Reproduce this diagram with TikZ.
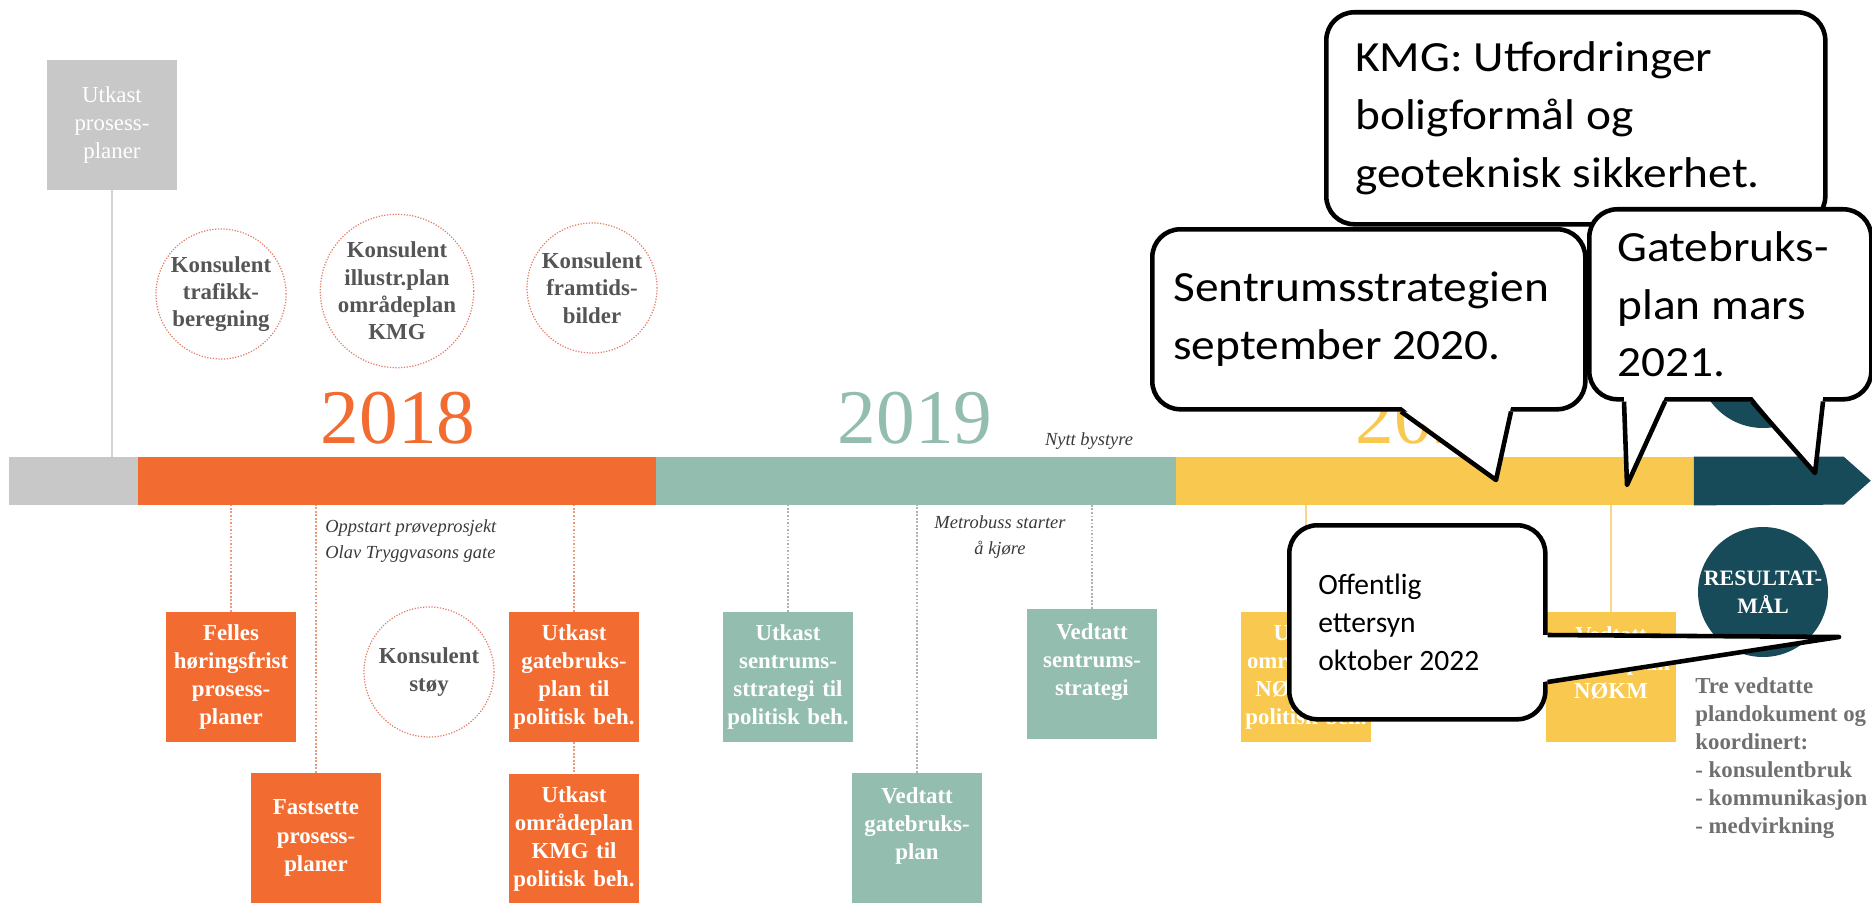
\documentclass[tikz,border=0pt]{standalone}
\usepackage{fontspec}
\setmainfont{Liberation Serif}
\newfontfamily\bobleskrift[FakeStretch=1.1]{Carlito}
\newfontfamily\smaabobleskrift{Carlito}
\usepackage{tikz}
\usetikzlibrary{positioning}
\definecolor{oransje}{HTML}{F26B30}
\definecolor{salvie}{HTML}{93BDAE}
\definecolor{gul}{HTML}{F9C84E}
\definecolor{marine}{HTML}{184B5A}
\definecolor{graa}{HTML}{C8C8C8}
\definecolor{graalinjefarge}{HTML}{D3D3D3}
\definecolor{sirkelkant}{HTML}{E27C68}
\definecolor{sirkeltekst}{HTML}{555555}
\definecolor{notattekst}{HTML}{3A3A3A}
\definecolor{maaltekst}{HTML}{707070}
\definecolor{prikkoransje}{HTML}{E99B7A}
\definecolor{prikksalvie}{HTML}{A8B5B3}
\definecolor{strekgul}{HTML}{F7D68A}
\newcommand{\boksfont}{\fontsize{13}{16}\selectfont\bfseries}
\tikzset {
boks/.style={shape=rectangle,minimum width=26mm,minimum height=26mm,text width=25mm,inner sep=0.5mm,align=center,text=white,font=\boksfont},
sirkel/.style={shape=circle,draw=sirkelkant,line width=0.7pt,dash pattern=on 0.7pt off 0.9pt,minimum size=26mm,inner sep=0pt,align=center,text=sirkeltekst,font=\fontsize{13}{15.5}\selectfont\bfseries},
rund/.style={shape=circle,fill=marine,minimum size=26mm,inner sep=0pt,align=center,text=white,font=\fontsize{12.5}{16}\selectfont\bfseries},
bar/.style={shape=rectangle,minimum height=9.6mm,inner sep=0pt,anchor=west},
aar/.style={anchor=base,inner sep=0pt,font=\fontsize{44}{44}\selectfont},
notat/.style={inner sep=0pt,text=notattekst,font=\fontsize{10.5}{14.7}\selectfont\itshape},
boble/.style={shape=rectangle,draw=black,fill=white,line width=2.6pt,rounded corners=5.6mm,align=flush left,anchor=north west,inner ysep=0pt,font=\bobleskrift\fontsize{24.5}{32.8}\selectfont},
hale/.style={draw=black,line width=2.6pt,line join=round},
graalinje/.style={draw=graalinjefarge,line width=1.1pt},
strek oransje/.style={draw=prikkoransje,line width=0.8pt,dash pattern=on 1pt off 1pt},
strek salvie/.style={draw=prikksalvie,line width=0.8pt,dash pattern=on 1pt off 1pt},
strek gul/.style={draw=strekgul,line width=0.9pt}
}

\begin{document}
\begin{tikzpicture}
[x=0.2mm,y=-0.2mm]
\useasboundingbox (0,0) rectangle (1872,902);
\node[boks,fill=graa,font=\boksfont\mdseries] (utkast prosess) at (112,125) {Utkast\\prosess-\\planer};
\node[bar,fill=graa,minimum width=25.8mm] (bar start) at (9,481) {};
\node[bar,fill=oransje,minimum width=103.6mm] (bar 2018) at (138,481) {};
\node[bar,fill=salvie,minimum width=104mm] (bar 2019) at (656,481) {};
\node[bar,fill=gul,minimum width=103.4mm] (bar 2020) at (1176,481) {};
\fill[marine] (bar 2020.north east) -- ++(150,0) -- ++(27,24) -- ++(-27,24) -- (bar 2020.south east) -- cycle;
\draw[graalinje] (utkast prosess.south) -- (utkast prosess.south |- bar start.north);

\node[sirkel] (trafikk) at (221,294) {Konsulent\\trafikk-\\beregning};
\node[sirkel] (illustrasjon) at (397,291) {Konsulent\\illustr.plan\\områdeplan\\KMG};
\node[sirkel] (framtid) at (592,288) {Konsulent\\framtids-\\bilder};
\node[sirkel] (stoy) at (429,672) {Konsulent\\støy};

\node[aar,text=oransje] (aar 2018) at (398,443) {2018};
\node[aar,text=salvie] (aar 2019) at (915,443) {2019};
\node[aar,text=gul] (aar 2020) at (1433,443) {2020};

\node[boks,fill=oransje] (felles) at (231,677) {Felles\\høringsfrist\\prosess-\\planer};
\node[boks,fill=oransje] (fastsette) at (316,838) {Fastsette\\prosess-\\planer};
\node[boks,fill=oransje] (gatebruks utkast) at (574,677) {Utkast\\gatebruks-\\plan til\\politisk beh.};
\node[boks,fill=oransje] (kmg utkast) [below=6.2mm of gatebruks utkast] {Utkast\\områdeplan\\KMG til\\politisk beh.};
\node[boks,fill=salvie] (sentrum utkast) at (788,677) {Utkast\\sentrums-\\sttrategi til\\politisk beh.};
\node[boks,fill=salvie] (gatebruks vedtatt) at (917,838) {Vedtatt\\gatebruks-\\plan\\\mbox{}};
\node[boks,fill=salvie] (sentrum vedtatt) at (1092,674) {Vedtatt\\sentrums-\\strategi\\\mbox{}};
\node[boks,fill=gul] (nokm utkast) at (1306,677) {Utkast\\områdeplan\\NØKM til\\politisk beh.};
\node[boks,fill=gul] (nokm vedtatt) at (1611,677) {Vedtatt\\områdeplan\\NØKM\\\mbox{}};

\draw[strek oransje] (felles.north) -- (felles.north |- bar 2018.south);
\draw[strek oransje] (fastsette.north) -- (fastsette.north |- bar 2018.south);
\draw[strek oransje] (gatebruks utkast.north) -- (gatebruks utkast.north |- bar 2018.south);
\draw[strek oransje] (gatebruks utkast) -- (kmg utkast);
\draw[strek salvie] (sentrum utkast.north) -- (sentrum utkast.north |- bar 2019.south);
\draw[strek salvie] (gatebruks vedtatt.north) -- (gatebruks vedtatt.north |- bar 2019.south);
\draw[strek salvie] (sentrum vedtatt.north) -- (sentrum vedtatt.north |- bar 2019.south);
\draw[strek gul] (nokm utkast.north) -- (nokm utkast.north |- bar 2020.south);
\draw[strek gul] (nokm vedtatt.north) -- (nokm vedtatt.north |- bar 2020.south);

\node[notat,anchor=west,align=left] (oppstart) at (325,541) {Oppstart prøveprosjekt\\Olav Tryggvasons gate};
\node[notat,align=center] (metrobuss) at (1000,537) {Metrobuss starter\\å kjøre};
\node[notat,anchor=base] (bystyre) at (1089,445) {Nytt bystyre};

\node[rund] (milepael) at (1763,363) {};
\node[rund] (resultat) at (1763,592) {RESULTAT-\\MÅL};
\node[anchor=north west,inner sep=0pt,align=left,text=maaltekst,font=\boksfont] (maal) at (1695,677) {Tre vedtatte\\plandokument og\\koordinert:\\- konsulentbruk\\- kommunikasjon\\- medvirkning};

\node[boble,text width=88.2mm,inner xsep=5.8mm,minimum height=42.4mm] (kmg boble) at (1324,10) {KMG: Utfordringer\\boligformål og\\geoteknisk sikkerhet.};

\node[boble,text width=78.2mm,inner xsep=4.2mm,minimum height=36mm] (sentrum boble) at (1150,227) {Sentrumsstrategien\\september 2020.};
\coordinate (sentrum tupp) at (1496,480);
\fill[white] ([xshift=50.2mm,yshift=1mm]sentrum boble.south west) -- (sentrum tupp) -- ([xshift=72.2mm,yshift=1mm]sentrum boble.south west) -- cycle;
\draw[hale] ([xshift=50.2mm]sentrum boble.south west) -- (sentrum tupp) -- ([xshift=72.2mm]sentrum boble.south west);

\node[boble,text width=45.2mm,inner xsep=5.6mm,minimum height=38mm] (gatebruks boble) at (1587,207) {Gatebruks-\\plan mars\\2021.};
\coordinate (gatebruks tupp a) at (1627,485);
\coordinate (gatebruks tupp b) at (1815,473);
\fill[white] ([xshift=7.4mm,yshift=1mm]gatebruks boble.south west) -- (gatebruks tupp a) -- ([xshift=15.6mm,yshift=1mm]gatebruks boble.south west) -- cycle;
\draw[hale] ([xshift=7.4mm]gatebruks boble.south west) -- (gatebruks tupp a) -- ([xshift=15.6mm]gatebruks boble.south west);
\fill[white] ([xshift=33mm,yshift=1mm]gatebruks boble.south west) -- (gatebruks tupp b) -- ([xshift=47.2mm,yshift=1mm]gatebruks boble.south west) -- cycle;
\draw[hale] ([xshift=33mm]gatebruks boble.south west) -- (gatebruks tupp b) -- ([xshift=47.2mm]gatebruks boble.south west);

\node[boble,text width=39.6mm,inner xsep=5.8mm,minimum height=38.8mm,font=\smaabobleskrift\fontsize{16.8}{21.7}\selectfont] (offentlig boble) at (1287,523) {Offentlig\\ettersyn\\oktober 2022};
\coordinate (offentlig tupp) at (1839,637);
\fill[white] ([xshift=-1mm,yshift=-22.4mm]offentlig boble.north east) -- (offentlig tupp) -- ([xshift=-1mm,yshift=-31.8mm]offentlig boble.north east) -- cycle;
\draw[hale] ([yshift=-22.4mm]offentlig boble.north east) -- (offentlig tupp) -- ([yshift=-31.8mm]offentlig boble.north east);
\end{tikzpicture}
\end{document}
